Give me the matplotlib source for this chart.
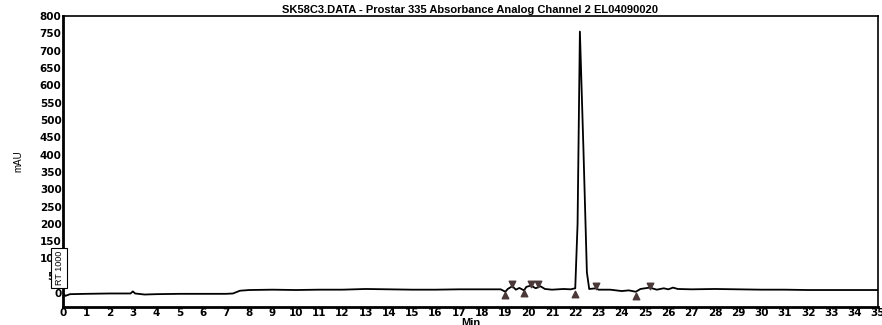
import matplotlib.pyplot as plt
import numpy as np

# chromatogram trace
time_min = [0.0, 0.1, 0.3, 1.0, 2.0, 2.9, 3.0, 3.1, 3.5, 4.0, 5.0, 6.0, 7.0, 7.3, 7.6,
            8.0, 9.0, 10.0, 11.0, 12.0, 13.0, 14.0, 15.0, 16.0, 17.0, 18.0, 18.8,
            19.0, 19.1, 19.3, 19.45, 19.6, 19.8, 19.9, 20.1, 20.3, 20.5, 20.7, 21.0,
            21.5, 21.8, 22.0, 22.1, 22.2, 22.35, 22.5, 22.6, 22.9, 23.0, 23.5, 24.0,
            24.3, 24.6, 24.8, 25.0, 25.2, 25.5, 25.8, 26.0, 26.2, 26.4, 27.0, 28.0,
            29.0, 30.0, 31.0, 32.0, 33.0, 34.0, 35.0]
mau = [0, -8, -3, -2, -1, -1, 5, -1, -4, -3, -2, -2, -2, -1, 7,
       9, 10, 9, 10, 10, 12, 11, 10, 10, 11, 11, 11,
       4, 12, 20, 10, 15, 8, 18, 22, 14, 20, 12, 10,
       12, 11, 14, 200, 755, 420, 60, 12, 14, 10, 10, 6,
       8, 4, 12, 14, 16, 10, 14, 11, 16, 12, 11, 12,
       11, 10, 10, 9, 9, 9, 9]

# peak start / end markers
start_t = [19.0, 19.8, 22.0, 24.6]
start_y = [-4, 0, -2, -8]
end_t = [19.3, 20.1, 20.4, 22.9, 25.2]
end_y = [25, 26, 26, 20, 22]

x_ticks = list(range(0, 36))
y_ticks = list(range(0, 801, 50))

plt.rcParams['font.family'] = ['Liberation Sans', 'DejaVu Sans']

fig = plt.figure(figsize=(8.82, 3.25), dpi=100)
ax = fig.add_axes([0.0714, 0.0554, 0.924, 0.8954])

ax.plot(time_min, mau, color='black', linewidth=1.3)
ax.scatter(start_t, start_y, marker='^', s=22, color='#4a3838', zorder=3)
ax.scatter(end_t, end_y, marker='v', s=22, color='#4a3838', zorder=3)

ax.set_xlim(0, 35)
ax.set_ylim(-40, 800)
ax.set_xticks(x_ticks)
ax.set_yticks(y_ticks)
ax.tick_params(axis='both', length=0, labelsize=7.5, pad=1)
for lab in ax.get_xticklabels() + ax.get_yticklabels():
    lab.set_fontweight('bold')
    lab.set_family('DejaVu Sans')

ax.spines['left'].set_linewidth(2)
ax.spines['bottom'].set_linewidth(2)
ax.spines['top'].set_linewidth(1.2)
ax.spines['right'].set_linewidth(1.2)

ax.set_title('SK58C3.DATA - Prostar 335 Absorbance Analog Channel 2 EL04090020',
             fontsize=8, fontweight='bold', pad=2)
ax.set_xlabel('Min', fontsize=8, fontweight='bold', labelpad=0)
ax.set_ylabel('mAU', fontsize=7, labelpad=12)

# attenuation box over the low y labels
fig.text(0.067, 0.175, 'RT 1000', rotation=90, fontsize=6.5, ha='center', va='center',
         bbox=dict(boxstyle='square,pad=0.35', facecolor='white', edgecolor='black', linewidth=0.8),
         zorder=10)

fig.savefig('out.png', dpi=100)
